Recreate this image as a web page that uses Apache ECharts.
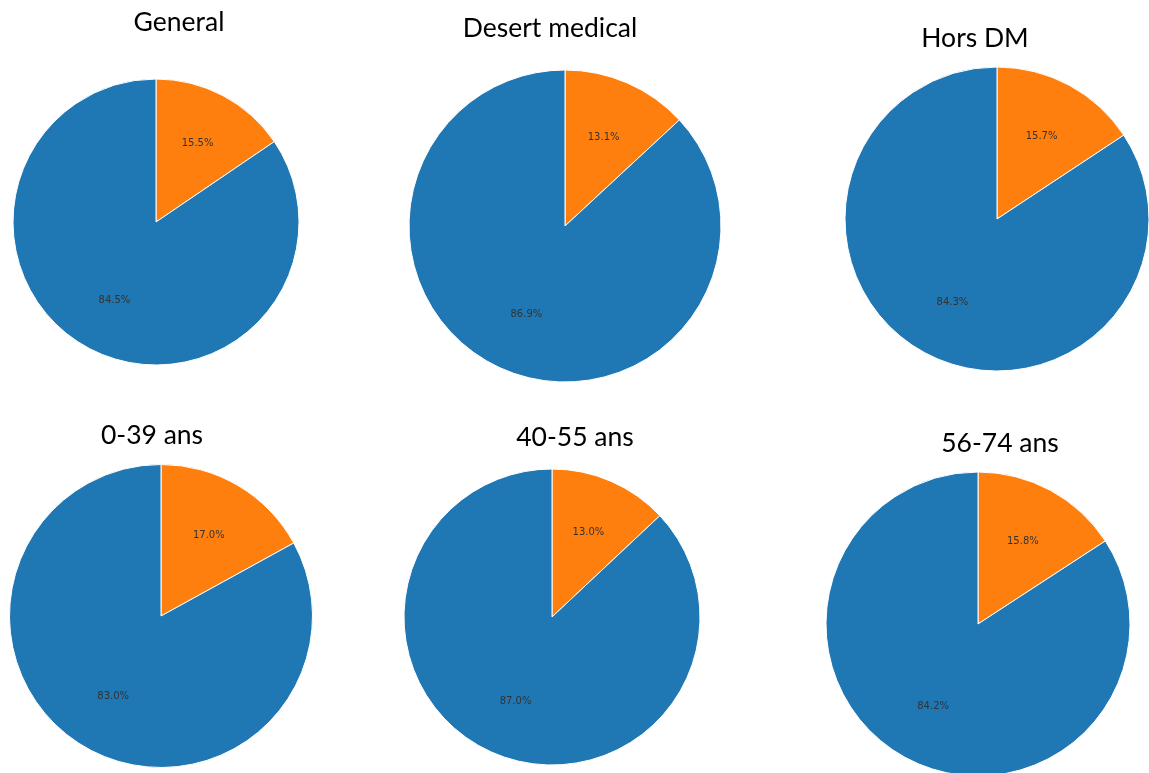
<!DOCTYPE html>
<html>
<head>
<meta charset="utf-8">
<script src="https://cdn.jsdelivr.net/npm/echarts@6/dist/echarts.min.js"></script>
<style>
  html, body { margin: 0; padding: 0; background: #fff; }
  #chart { width: 1149px; height: 773px; }
</style>
</head>
<body>
<div id="chart"></div>
<script>
// ---- Data ----
const titles = ['General', 'Desert medical', 'Hors DM', '0-39 ans', '40-55 ans', '56-74 ans'];
const sliceNames = ['Part A', 'Part B'];
const orangeShare = [15.5, 13.1, 15.7, 17.0, 13.0, 15.8];
const blueShare = [84.5, 86.9, 84.3, 83.0, 87.0, 84.2];

// ---- Layout (styles only) ----
const pieCenters = [[156, 222], [565, 226], [997, 219], [161, 616], [552, 617], [978, 624]];
const pieRadii = [143, 156, 152, 151.5, 148, 152];
const titlePos = [[179, 22], [550, 28], [975, 38], [152, 435], [575, 437], [1000, 443]];

const colors = ['#ff7f0e', '#1f77b4'];

const series = [];
titles.forEach((t, i) => {
  const data = [
    { name: sliceNames[0], value: orangeShare[i] },
    { name: sliceNames[1], value: blueShare[i] }
  ];
  const r = pieRadii[i];
  series.push({
    type: 'pie',
    center: pieCenters[i],
    radius: [0, r],
    startAngle: 90,
    clockwise: true,
    animation: false,
    silent: true,
    color: colors,
    label: { show: false },
    labelLine: { show: false },
    itemStyle: { borderColor: '#ffffff', borderWidth: 1 },
    data: data
  });
  // label-only overlay so labels sit at 0.6 r
  series.push({
    type: 'pie',
    center: pieCenters[i],
    radius: [0.2 * r, r],
    startAngle: 90,
    clockwise: true,
    animation: false,
    silent: true,
    itemStyle: { color: 'rgba(0,0,0,0)', borderWidth: 0 },
    label: {
      show: true,
      position: 'inside',
      color: '#333333',
      fontFamily: 'DejaVu Sans',
      fontSize: 10,
      formatter: p => p.value.toFixed(1) + '%'
    },
    labelLine: { show: false },
    data: data
  });
});

const graphics = titles.map((t, i) => ({
  type: 'text',
  x: titlePos[i][0],
  y: titlePos[i][1],
  style: {
    text: t,
    fill: '#000',
    font: '26.5px Lato',
    textAlign: 'center',
    textVerticalAlign: 'middle'
  }
}));

const chart = echarts.init(document.getElementById('chart'), null, { renderer: 'canvas' });
chart.setOption({
  backgroundColor: '#ffffff',
  animation: false,
  series: series,
  graphic: graphics
});
</script>
</body>
</html>
